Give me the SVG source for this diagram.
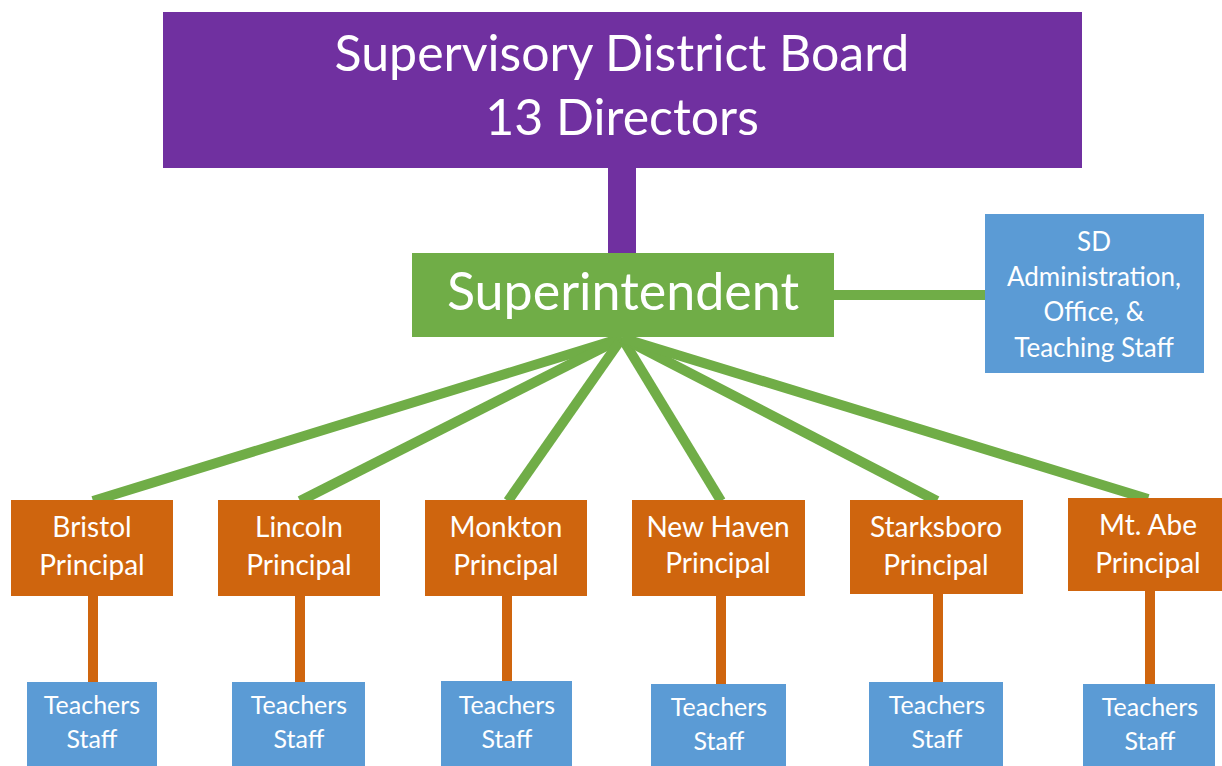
<svg xmlns="http://www.w3.org/2000/svg" width="1222" height="766" viewBox="0 0 1222 766">
<style>
text{font-family:Lato,"Open Sans","Liberation Sans",sans-serif;fill:#ffffff;text-anchor:middle}
.board{fill:#7030A0}
.sup{fill:#70AD47}
.blue{fill:#5B9BD5}
.prin{fill:#CF650E}
.big{font-size:50px}
.sbig{font-size:52px}
.mid{font-size:26px}
.pt{font-size:28px}
.tt{font-size:25px}
.fan{stroke:#70AD47;stroke-width:10;stroke-linecap:butt;fill:none}
.orn{stroke:#CF650E;stroke-width:10;fill:none}
</style>
<rect width="1222" height="766" fill="#ffffff"/>
<g id="connectors">
  <rect x="608" y="167" width="28" height="87" fill="#7030A0"/>
  <line class="fan" x1="833" y1="295" x2="986" y2="295"/>
  <line class="fan" x1="622" y1="338" x2="93" y2="501"/>
  <line class="fan" x1="622" y1="338" x2="300" y2="501"/>
  <line class="fan" x1="622" y1="338" x2="508" y2="501"/>
  <line class="fan" x1="622" y1="338" x2="721" y2="501"/>
  <line class="fan" x1="622" y1="338" x2="937" y2="501"/>
  <line class="fan" x1="622" y1="338" x2="1148" y2="499"/>
  <line class="orn" x1="93" y1="595" x2="93" y2="683"/>
  <line class="orn" x1="300" y1="595" x2="300" y2="683"/>
  <line class="orn" x1="507" y1="595" x2="507" y2="683"/>
  <line class="orn" x1="721" y1="595" x2="721" y2="685"/>
  <line class="orn" x1="938" y1="594" x2="938" y2="683"/>
  <line class="orn" x1="1150" y1="591" x2="1150" y2="685"/>
</g>
<g id="board">
  <rect class="board" x="163" y="12" width="919" height="156"/>
  <text class="big" x="622" y="71">Supervisory District Board</text>
  <text class="big" x="622" y="135">13 Directors</text>
</g>
<g id="superintendent">
  <rect class="sup" x="412" y="253" width="422" height="84"/>
  <text class="sbig" x="623" y="310">Superintendent</text>
</g>
<g id="sd-admin">
  <rect class="blue" x="985" y="214" width="219" height="159"/>
  <text class="mid" x="1094" y="251">SD</text>
  <text class="mid" x="1094" y="286">Administration,</text>
  <text class="mid" x="1094" y="321">Office, &amp;</text>
  <text class="mid" x="1094" y="357">Teaching Staff</text>
</g>
<g id="bristol">
  <rect class="prin" x="11" y="500" width="162" height="96"/>
  <text class="pt" x="92" y="537">Bristol</text>
  <text class="pt" x="92" y="575">Principal</text>
</g>
<g id="lincoln">
  <rect class="prin" x="218" y="500" width="162" height="96"/>
  <text class="pt" x="299" y="537">Lincoln</text>
  <text class="pt" x="299" y="575">Principal</text>
</g>
<g id="monkton">
  <rect class="prin" x="425" y="500" width="162" height="96"/>
  <text class="pt" x="506" y="537">Monkton</text>
  <text class="pt" x="506" y="575">Principal</text>
</g>
<g id="newhaven">
  <rect class="prin" x="632" y="500" width="173" height="96"/>
  <text class="pt" x="718" y="537">New Haven</text>
  <text class="pt" x="718" y="573">Principal</text>
</g>
<g id="starksboro">
  <rect class="prin" x="850" y="500" width="173" height="94"/>
  <text class="pt" x="936" y="537">Starksboro</text>
  <text class="pt" x="936" y="575">Principal</text>
</g>
<g id="mtabe">
  <rect class="prin" x="1068" y="498" width="154" height="93"/>
  <text class="pt" x="1148" y="535">Mt. Abe</text>
  <text class="pt" x="1148" y="573">Principal</text>
</g>
<g id="teachers-bristol">
  <rect class="blue" x="27" y="682" width="130" height="84"/>
  <text class="tt" x="92" y="714">Teachers</text>
  <text class="tt" x="92" y="748">Staff</text>
</g>
<g id="teachers-lincoln">
  <rect class="blue" x="232" y="682" width="133" height="84"/>
  <text class="tt" x="299" y="714">Teachers</text>
  <text class="tt" x="299" y="748">Staff</text>
</g>
<g id="teachers-monkton">
  <rect class="blue" x="441" y="681" width="131" height="85"/>
  <text class="tt" x="507" y="714">Teachers</text>
  <text class="tt" x="507" y="748">Staff</text>
</g>
<g id="teachers-newhaven">
  <rect class="blue" x="651" y="684" width="135" height="82"/>
  <text class="tt" x="719" y="716">Teachers</text>
  <text class="tt" x="719" y="750">Staff</text>
</g>
<g id="teachers-starksboro">
  <rect class="blue" x="869" y="682" width="134" height="84"/>
  <text class="tt" x="937" y="714">Teachers</text>
  <text class="tt" x="937" y="748">Staff</text>
</g>
<g id="teachers-mtabe">
  <rect class="blue" x="1083" y="684" width="132" height="82"/>
  <text class="tt" x="1150" y="716">Teachers</text>
  <text class="tt" x="1150" y="750">Staff</text>
</g>
</svg>
